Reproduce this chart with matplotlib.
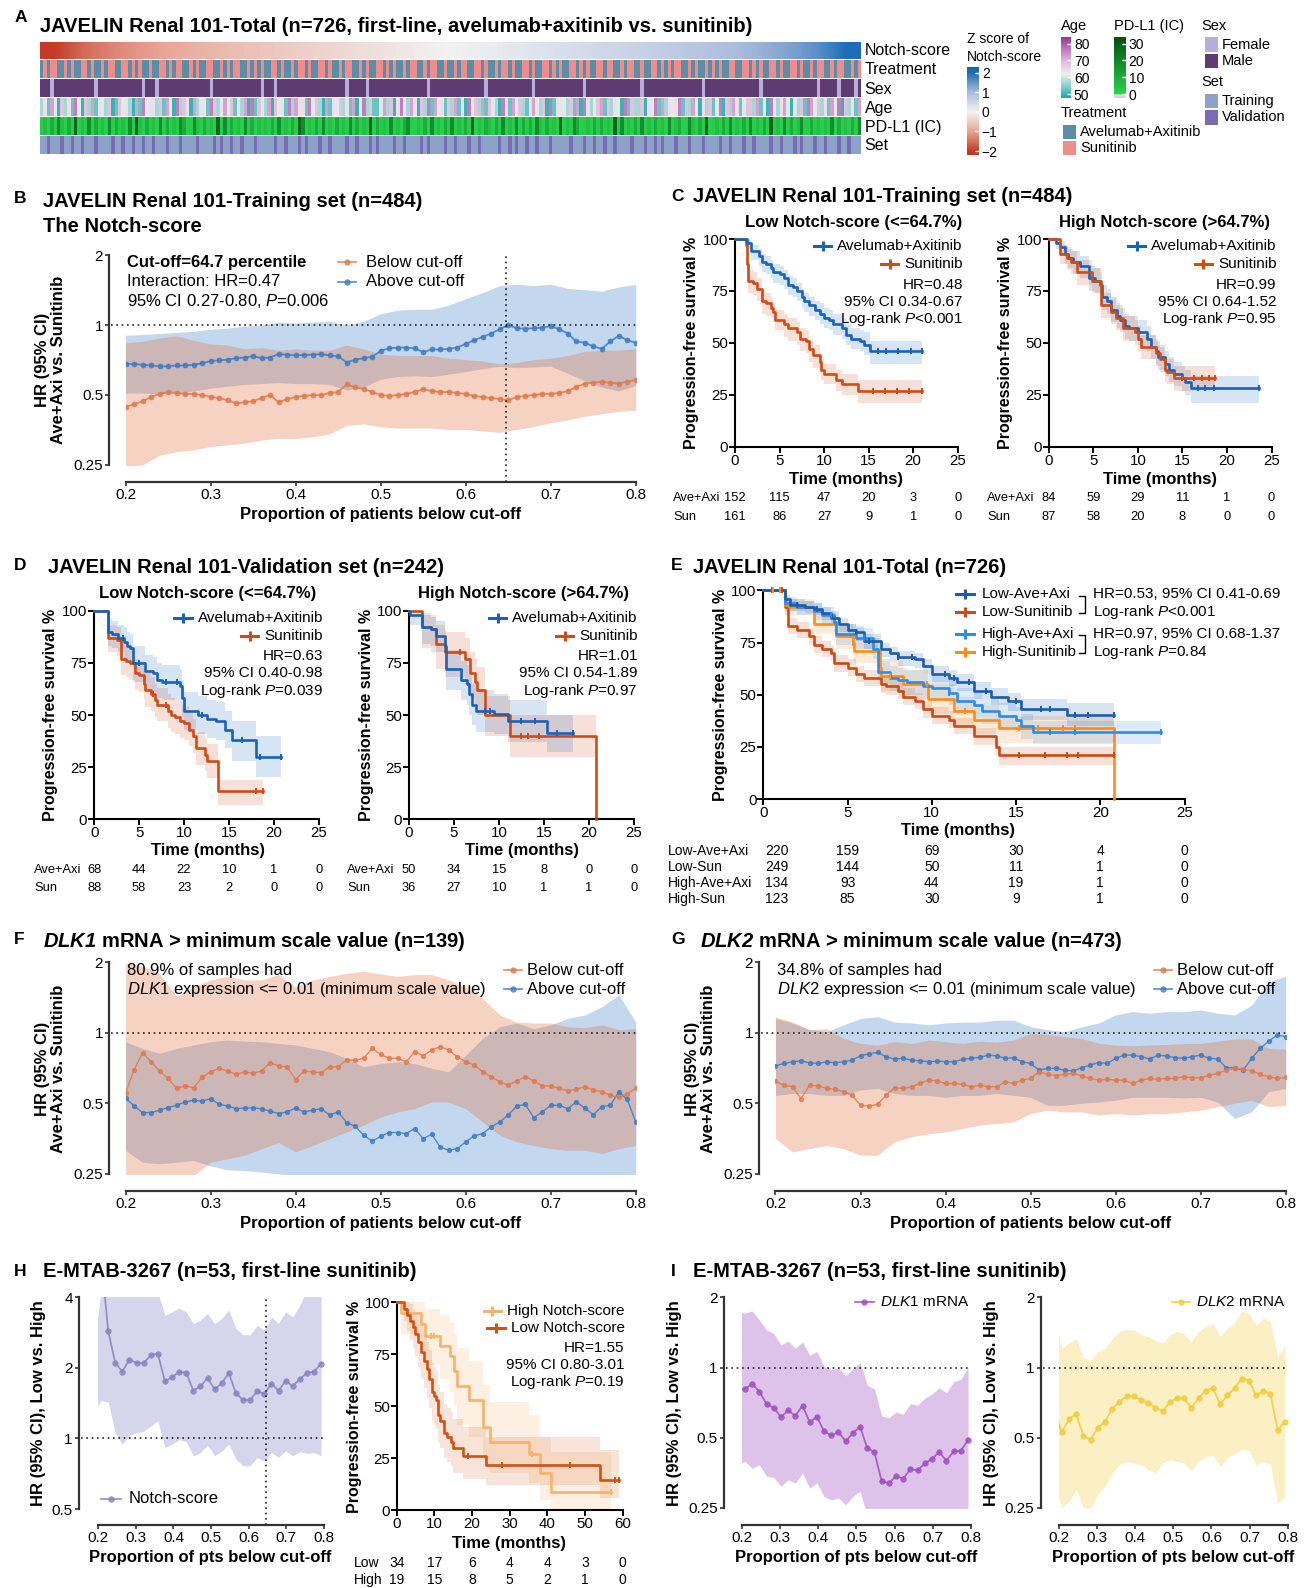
import numpy as np
import matplotlib
matplotlib.use("Agg")
import matplotlib.pyplot as plt
from matplotlib.colors import LinearSegmentedColormap, Normalize, to_rgb
from matplotlib.lines import Line2D
from matplotlib.patches import Rectangle
from matplotlib.cm import ScalarMappable
from matplotlib.ticker import NullLocator
from matplotlib.transforms import blended_transform_factory
from bisect import bisect_right

plt.rcParams['font.family'] = ['Liberation Sans', 'DejaVu Sans']
plt.rcParams['mathtext.fontset'] = 'custom'
plt.rcParams['mathtext.rm'] = 'Liberation Sans'
plt.rcParams['mathtext.it'] = 'Liberation Sans:italic'
plt.rcParams['mathtext.bf'] = 'Liberation Sans:bold'
plt.rcParams['mathtext.bfit'] = 'Liberation Sans:italic:bold'

# ---------------- data: panel A heatmap ----------------
NOTCH_Z = [-2.0, -1.55, -1.3, -1.1, -0.95, -0.82, -0.7, -0.6, -0.5, -0.4, -0.31, -0.22, -0.13, -0.04,
           0.04, 0.13, 0.22, 0.31, 0.4, 0.5, 0.6, 0.7, 0.82, 0.95, 1.1, 1.3, 1.55, 2.0]
TREATMENT = "".join(["ASASSAASASA", "ASSASAASASS", "AASSASASAAS", "AASSASASSAA", "SASAASSAASA", "SASSAASASAS",
                     "AASSASAASAS", "SASAASSASAA", "SASSAASASAA", "SSASASAASAS", "SAASASSAASA", "ASASSAASSAS",
                     "AASASSASAAS", "SASAASSASAS", "AASSASASAAS", "SASSAASASSA", "ASAASSASASA", "SSAASASAASA",
                     "SASAASSAASS", "ASASAASSASA", "ASSASAASASS", "AASASSAASAS"])
SEX = "".join(["MMMFMMMMMMM", "MMMMMFMMMMM", "MMMMMMMMFMM", "MFMMMMMMMMM", "MMMMMMFMMMM", "MMMMMMMMMMF",
               "MMMFMMMMMMM", "MMMMMMMMMMM", "MMFMMMMMFMM", "MMMMMMMMMMM", "MMMMFMMMMMM", "MMMMMMMMMMF",
               "MMMMMMMMMMM", "MMFMMMMMMMM", "MMMMMMFMMMM", "MMMMMMMMMMM", "MFMMMMMMMMM", "MMMMMMMMFMM",
               "MMMMMMMMMMM", "MMMFMMMMMMM", "MMMMMMMMMFM", "MMMMFMMMMFM"])
AGE_CODE = "".join(["35274163528", "41637254361", "26453172845", "53627418365", "17354286347", "46253718264",
                    "37164528375", "52846317254", "63527148362", "24736158437", "51638274526", "37251846372",
                    "64318527463", "25743618254", "43627185346", "72635418263", "36154827354", "58263741536",
                    "24816375246", "63725184357", "41536287463", "52748163527"])
AGE_LEVELS = [46, 50, 53, 57, 61, 64, 68, 72, 76, 81]
PDL1_CODE = "".join(["12031420315", "02140312041", "31204152031", "20413021430", "14203120514", "03120413021",
                     "21304120315", "40213041203", "12041302150", "31204120341", "02130412031", "41203150213",
                     "20314021403", "13042031205", "02143012031", "31205140213", "04120312041", "23014203150",
                     "12031402130", "40213051204", "13024103120", "21403120314"])
PDL1_LEVELS = [1, 2, 5, 10, 18, 28]
SET = "".join(["TTVTTTVTTVT", "TVTTTVTTTTV", "TTVTTVTTVTT", "VTTTVTTTVTT", "TTVTTTTVTVT", "TVTTVTTTVTT",
               "TTTVTTVTTTV", "TVTTTVTTVTT", "TTVTTVTTTVT", "VTTTTVTTVTT", "TTVTVTTTTVT", "TVTTTVTTVTT",
               "TTTVTTVTVTT", "VTTVTTTVTTT", "TTVTTTVTTVT", "TVTTVTTTTVT", "TTVTTVTVTTT", "VTTTVTTTVTT",
               "TTVTTVTTTVT", "TVTTTTVTTVT", "TTVTVTTTVTT", "VTTTVTTVTTT"])

# ---------------- data: HR-vs-cutoff curves ----------------
PROP_FINE = np.round(np.arange(0.20, 0.805, 0.01), 2)
PROP_CI = np.round(np.arange(0.20, 0.805, 0.02), 2)

B_ABOVE_HR = [0.68, 0.68, 0.675, 0.67, 0.665, 0.665, 0.67, 0.67, 0.675, 0.685,
              0.70, 0.705, 0.71, 0.72, 0.725, 0.735, 0.72, 0.725, 0.75, 0.745,
              0.74, 0.745, 0.745, 0.75, 0.74, 0.735, 0.69, 0.71, 0.72, 0.73,
              0.775, 0.795, 0.80, 0.80, 0.795, 0.765, 0.785, 0.785, 0.79, 0.80,
              0.83, 0.86, 0.89, 0.92, 0.96, 1.0, 0.97, 0.965, 0.97, 0.975,
              0.99, 0.96, 0.92, 0.85, 0.84, 0.81, 0.79, 0.85, 0.90, 0.86, 0.84]
B_BELOW_HR = [0.445, 0.455, 0.47, 0.49, 0.505, 0.515, 0.51, 0.505, 0.505, 0.50,
              0.49, 0.485, 0.475, 0.46, 0.465, 0.47, 0.485, 0.50, 0.465, 0.48,
              0.49, 0.495, 0.50, 0.50, 0.51, 0.515, 0.555, 0.54, 0.53, 0.515,
              0.50, 0.495, 0.50, 0.505, 0.515, 0.53, 0.52, 0.515, 0.515, 0.51,
              0.505, 0.495, 0.49, 0.485, 0.48, 0.475, 0.49, 0.495, 0.50, 0.505,
              0.505, 0.51, 0.52, 0.54, 0.56, 0.565, 0.57, 0.565, 0.56, 0.57, 0.58]
B_ABOVE_HI = [0.905, 0.91, 0.92, 0.93, 0.94, 0.96, 0.97, 0.99, 1.0, 1.03, 1.02, 1.03, 1.04, 1.0, 1.04, 1.12,
              1.16, 1.17, 1.17, 1.22, 1.30, 1.38, 1.48, 1.50, 1.48, 1.50, 1.44, 1.42, 1.40, 1.46, 1.50]
B_ABOVE_LO = [0.51, 0.51, 0.505, 0.51, 0.52, 0.535, 0.545, 0.555, 0.56, 0.565, 0.56, 0.56, 0.555, 0.525, 0.54,
              0.585, 0.60, 0.605, 0.60, 0.615, 0.63, 0.65, 0.665, 0.655, 0.66, 0.665, 0.62, 0.575, 0.54, 0.52, 0.55]
B_BELOW_HI = [0.84, 0.85, 0.88, 0.90, 0.86, 0.83, 0.82, 0.79, 0.80, 0.78, 0.79, 0.78, 0.78, 0.82, 0.79, 0.75,
              0.74, 0.74, 0.74, 0.72, 0.71, 0.70, 0.68, 0.69, 0.71, 0.72, 0.74, 0.77, 0.78, 0.78, 0.79]
B_BELOW_LO = [0.245, 0.25, 0.275, 0.285, 0.29, 0.30, 0.305, 0.31, 0.32, 0.325, 0.325, 0.33, 0.34, 0.37, 0.375,
              0.365, 0.36, 0.36, 0.36, 0.355, 0.355, 0.35, 0.345, 0.355, 0.365, 0.38, 0.39, 0.405, 0.415, 0.425, 0.43]

F_BELOW_HR = [0.553, 0.692, 0.821, 0.751, 0.686, 0.638, 0.578, 0.593, 0.582, 0.644,
              0.681, 0.704, 0.686, 0.664, 0.681, 0.670, 0.686, 0.746, 0.720, 0.715,
              0.631, 0.686, 0.681, 0.674, 0.715, 0.715, 0.764, 0.764, 0.777, 0.857,
              0.808, 0.777, 0.777, 0.751, 0.829, 0.797, 0.843, 0.871, 0.843, 0.790,
              0.751, 0.727, 0.681, 0.648, 0.617, 0.597, 0.623, 0.648, 0.623, 0.593,
              0.593, 0.578, 0.565, 0.574, 0.588, 0.569, 0.560, 0.541, 0.529, 0.550, 0.578]
F_ABOVE_HR = [0.527, 0.487, 0.456, 0.456, 0.467, 0.479, 0.490, 0.506, 0.515, 0.510,
              0.523, 0.495, 0.487, 0.474, 0.477, 0.477, 0.474, 0.462, 0.452, 0.459,
              0.477, 0.459, 0.467, 0.474, 0.445, 0.459, 0.413, 0.399, 0.365, 0.345,
              0.361, 0.375, 0.375, 0.371, 0.390, 0.353, 0.369, 0.325, 0.315, 0.320,
              0.342, 0.363, 0.371, 0.396, 0.416, 0.445, 0.486, 0.494, 0.434, 0.459,
              0.490, 0.490, 0.474, 0.506, 0.477, 0.447, 0.483, 0.490, 0.559, 0.519, 0.416]
F_BELOW_HI = [1.98, 1.92, 1.79, 1.43, 1.57, 1.68, 1.74, 1.68, 1.68, 1.77, 1.57, 1.68, 1.74, 1.79, 1.83, 1.78,
              1.74, 1.77, 1.77, 1.68, 1.57, 1.40, 1.19, 1.11, 1.10, 1.10, 1.06, 1.05, 1.08, 1.03, 1.04]
F_BELOW_LO = [0.24, 0.24, 0.24, 0.24, 0.245, 0.28, 0.29, 0.30, 0.32, 0.34, 0.31, 0.33, 0.353, 0.377, 0.403,
              0.437, 0.459, 0.474, 0.506, 0.506, 0.474, 0.416, 0.365, 0.342, 0.33, 0.32, 0.315, 0.315, 0.305,
              0.32, 0.33]
F_ABOVE_HI = [0.915, 0.857, 0.816, 0.857, 0.886, 0.915, 0.93, 0.92, 0.915, 0.90, 0.886, 0.857, 0.829, 0.777,
              0.715, 0.739, 0.751, 0.739, 0.704, 0.681, 0.802, 0.946, 1.06, 1.10, 1.04, 1.08, 1.15, 1.19, 1.29,
              1.45, 1.11]
F_ABOVE_LO = [0.315, 0.28, 0.276, 0.28, 0.285, 0.27, 0.26, 0.258, 0.254, 0.25, 0.24, 0.24, 0.24, 0.24, 0.24,
              0.24, 0.24, 0.24, 0.24, 0.24, 0.24, 0.24, 0.24, 0.24, 0.24, 0.24, 0.24, 0.24, 0.24, 0.24, 0.24]

G_ABOVE_HR = [0.722, 0.739, 0.751, 0.758, 0.744, 0.739, 0.751, 0.744, 0.751, 0.764,
              0.797, 0.813, 0.824, 0.790, 0.772, 0.777, 0.764, 0.758, 0.751, 0.756,
              0.751, 0.751, 0.769, 0.777, 0.784, 0.802, 0.797, 0.777, 0.782, 0.751,
              0.739, 0.692, 0.704, 0.704, 0.692, 0.686, 0.709, 0.727, 0.746, 0.739,
              0.777, 0.802, 0.802, 0.790, 0.772, 0.802, 0.795, 0.782, 0.777, 0.790,
              0.802, 0.777, 0.772, 0.709, 0.709, 0.692, 0.777, 0.857, 0.921, 0.977, 0.961]
G_BELOW_HR = [0.621, 0.597, 0.588, 0.523, 0.597, 0.593, 0.578, 0.574, 0.560, 0.541,
              0.490, 0.487, 0.494, 0.541, 0.583, 0.578, 0.588, 0.607, 0.627, 0.623,
              0.607, 0.607, 0.601, 0.588, 0.597, 0.588, 0.588, 0.617, 0.607, 0.627,
              0.638, 0.681, 0.664, 0.655, 0.664, 0.670, 0.655, 0.638, 0.627, 0.633,
              0.627, 0.627, 0.607, 0.627, 0.638, 0.633, 0.638, 0.638, 0.648, 0.642,
              0.642, 0.659, 0.670, 0.692, 0.704, 0.697, 0.688, 0.664, 0.648, 0.638, 0.644]
G_ABOVE_HI = [1.15, 1.10, 1.03, 1.01, 1.08, 1.15, 1.17, 1.11, 1.10, 1.08, 1.10, 1.11, 1.11, 1.13, 1.13, 1.06,
              1.03, 1.01, 1.06, 1.10, 1.19, 1.23, 1.21, 1.23, 1.23, 1.25, 1.21, 1.19, 1.31, 1.65, 1.74]
G_ABOVE_LO = [0.54, 0.55, 0.55, 0.54, 0.54, 0.57, 0.578, 0.55, 0.54, 0.54, 0.53, 0.54, 0.54, 0.55, 0.54, 0.53,
              0.49, 0.49, 0.50, 0.506, 0.515, 0.53, 0.53, 0.53, 0.527, 0.53, 0.506, 0.43, 0.46, 0.56, 0.578]
G_BELOW_HI = [1.17, 1.11, 1.03, 1.04, 0.946, 0.90, 0.886, 0.915, 0.90, 0.93, 0.915, 0.90, 0.92, 0.91, 0.93,
              0.993, 0.984, 0.96, 0.946, 0.90, 0.886, 0.88, 0.886, 0.89, 0.90, 0.90, 0.92, 0.94, 0.94, 0.857, 0.85]
G_BELOW_LO = [0.353, 0.31, 0.32, 0.33, 0.32, 0.30, 0.30, 0.342, 0.36, 0.37, 0.377, 0.39, 0.403, 0.41, 0.416,
              0.452, 0.467, 0.459, 0.459, 0.445, 0.452, 0.445, 0.452, 0.452, 0.459, 0.467, 0.483, 0.50, 0.515,
              0.483, 0.49]

# E-MTAB-3267: cut-offs at 10..42 of 53 patients
N_BELOW = np.arange(10, 43)
PROP_53 = N_BELOW / 53
H_HR = [6.5, 6.0, 2.88, 2.10, 1.93, 2.17, 2.10, 2.10, 2.26, 2.30, 1.75, 1.83, 1.92, 1.91, 1.60, 1.67, 1.81,
        1.62, 1.72, 1.90, 1.56, 1.46, 1.46, 1.59, 1.55, 1.71, 1.60, 1.76, 1.67, 1.79, 1.90, 1.93, 2.08]
H_HI = [2.5, 4.2, 8.0, 5.0, 4.6, 5.0, 5.0, 5.0, 5.5, 4.2, 3.36, 3.47, 3.6, 3.47, 3.09, 3.2, 3.41, 3.09, 3.25,
        3.53, 2.94, 2.77, 2.77, 3.04, 2.9, 3.3, 3.1, 3.47, 3.3, 3.7, 4.3, 4.6, 5.0]
H_LO = [1.3, 1.45, 1.43, 1.06, 0.946, 1.03, 1.06, 1.07, 1.13, 1.19, 0.915, 0.946, 0.987, 0.97, 0.843, 0.87,
        0.937, 0.843, 0.885, 0.946, 0.815, 0.764, 0.764, 0.83, 0.80, 0.87, 0.83, 0.885, 0.843, 0.877, 0.865,
        0.87, 0.843]
DLK1_HR = [0.80, 0.81, 0.851, 0.789, 0.697, 0.674, 0.613, 0.655, 0.621, 0.686, 0.583, 0.615, 0.532, 0.512,
           0.529, 0.483, 0.524, 0.557, 0.452, 0.433, 0.325, 0.320, 0.342, 0.334, 0.367, 0.363, 0.388, 0.407,
           0.434, 0.399, 0.437, 0.440, 0.489]
DLK1_HI = [1.75, 1.71, 1.75, 1.6, 1.45, 1.40, 1.25, 1.30, 1.21, 1.29, 1.13, 1.17, 1.01, 0.98, 1.0, 0.92, 0.99,
           1.05, 0.84, 0.81, 0.62, 0.61, 0.645, 0.63, 0.70, 0.69, 0.74, 0.77, 0.82, 0.78, 0.87, 0.89, 1.0]
DLK1_LO = [0.383, 0.396, 0.37, 0.383, 0.342, 0.338, 0.31, 0.33, 0.32, 0.353, 0.304, 0.32, 0.28, 0.271, 0.276,
           0.258, 0.28, 0.295, 0.23, 0.21, 0.16, 0.16, 0.17, 0.17, 0.18, 0.18, 0.19, 0.2, 0.21, 0.2, 0.21,
           0.21, 0.23]
DLK2_HR = [0.65, 0.529, 0.601, 0.633, 0.510, 0.490, 0.550, 0.587, 0.665, 0.711, 0.756, 0.754, 0.725, 0.704,
           0.674, 0.652, 0.711, 0.739, 0.737, 0.670, 0.739, 0.797, 0.816, 0.697, 0.759, 0.816, 0.894, 0.880,
           0.759, 0.795, 0.769, 0.539, 0.587]
DLK2_HI = [1.6, 1.21, 1.28, 1.33, 1.11, 1.07, 1.17, 1.21, 1.33, 1.43, 1.46, 1.45, 1.38, 1.36, 1.31, 1.27, 1.38,
           1.43, 1.40, 1.29, 1.43, 1.50, 1.55, 1.36, 1.48, 1.56, 1.75, 1.71, 1.52, 1.63, 1.57, 1.11, 1.25]
DLK2_LO = [0.30, 0.25, 0.267, 0.30, 0.25, 0.25, 0.285, 0.31, 0.353, 0.383, 0.396, 0.39, 0.383, 0.365, 0.353,
           0.39, 0.403, 0.396, 0.39, 0.36, 0.396, 0.415, 0.42, 0.377, 0.41, 0.425, 0.447, 0.44, 0.383, 0.396,
           0.383, 0.263, 0.276]

# ---------------- data: Kaplan-Meier curves (time, survival %, CI low, CI high) ----------------
C_LOW_AVE_T = [0, 1.3, 1.8, 2.7, 3.0, 3.5, 4.0, 4.3, 5.0, 5.5, 6.0, 6.5, 7.0, 7.5, 7.8, 8.3, 9.0, 9.5, 10.0,
               10.5, 11.0, 12.0, 12.5, 13.0, 14.0, 14.5, 15.2]
C_LOW_AVE_S = [100, 98, 94, 92, 89, 88, 86, 84, 83, 81, 78, 77, 75, 72, 70, 68, 66, 64, 62, 61, 59, 57, 54,
               52, 51, 49, 46]
C_LOW_AVE_HI = [100, 100, 97, 95, 93, 92, 90, 88, 87, 85, 82, 81, 79, 76, 74, 72, 70, 69, 67, 66, 64, 62, 59,
                57, 56, 55, 51]
C_LOW_AVE_LO = [100, 95, 90, 87, 84, 83, 81, 79, 78, 76, 73, 72, 70, 67, 65, 63, 61, 59, 57, 56, 54, 52, 49,
                47, 46, 44, 40]
C_LOW_AVE_CENS = [16.0, 17.0, 18.3, 19.8, 21.0]
C_LOW_SUN_T = [0, 1.2, 1.35, 1.5, 2.0, 2.5, 3.0, 3.5, 4.0, 4.3, 4.5, 5.5, 6.0, 7.0, 7.3, 8.0, 8.3, 8.7, 9.5,
               9.7, 10.0, 11.3, 12.0, 13.8]
C_LOW_SUN_S = [100, 97, 88, 80, 79, 76, 70, 69, 67, 65, 61, 59, 57, 55, 52, 51, 47, 44, 41, 37, 35, 32, 30, 27]
C_LOW_SUN_HI = [100, 99, 92, 85, 84, 81, 75, 74, 72, 70, 66, 64, 62, 60, 57, 56, 52, 49, 46, 42, 40, 37, 35, 32]
C_LOW_SUN_LO = [100, 94, 83, 74, 73, 70, 64, 63, 62, 60, 56, 53, 51, 49, 46, 45, 41, 38, 35, 32, 30, 27, 25, 21]
C_LOW_SUN_CENS = [15.5, 16.8, 18.2, 19.5, 21.0]
C_HIGH_AVE_T = [0, 0.8, 1.2, 1.8, 2.2, 2.7, 3.5, 4.5, 5.2, 5.7, 6.0, 6.5, 7.0, 7.7, 8.0, 8.5, 9.0, 10.0, 11.0,
                11.5, 12.0, 12.3, 13.0, 13.5, 14.0, 15.0, 15.3, 16.0]
C_HIGH_AVE_S = [100, 98, 96, 93, 91, 89, 87, 81, 80, 78, 72, 70, 66, 63, 61, 58, 57, 55, 52, 48, 46, 43, 40,
                37, 35, 33, 31, 28]
C_HIGH_AVE_HI = [100, 100, 99, 97, 95, 94, 92, 87, 86, 84, 78, 76, 72, 69, 67, 64, 63, 61, 58, 54, 52, 49, 46,
                 43, 41, 39, 37, 34]
C_HIGH_AVE_LO = [100, 95, 92, 88, 86, 83, 81, 75, 74, 72, 66, 64, 60, 57, 55, 52, 51, 49, 46, 42, 40, 37, 34,
                 31, 29, 27, 25, 21]
C_HIGH_AVE_CENS = [16.7, 17.5, 18.5, 23.6]
C_HIGH_SUN_T = [0, 1.3, 2.0, 2.5, 3.2, 4.8, 5.9, 7.0, 7.5, 8.3, 9.7, 10.0, 10.3, 12.0, 12.5, 13.0, 13.3, 14.0]
C_HIGH_SUN_S = [100, 93, 91, 89, 84, 80, 68, 65, 62, 57, 55, 52, 48, 45, 42, 37, 36, 33]
C_HIGH_SUN_HI = [100, 97, 96, 94, 90, 86, 74, 71, 68, 63, 61, 58, 54, 51, 48, 43, 42, 39]
C_HIGH_SUN_LO = [100, 88, 85, 83, 78, 74, 62, 59, 56, 51, 49, 46, 42, 39, 36, 31, 30, 27]
C_HIGH_SUN_CENS = [15.0, 16.3, 17.2, 18.0, 18.6]

D_LOW_AVE_T = [0, 1.5, 2.0, 2.7, 3.3, 3.7, 4.0, 4.3, 5.7, 6.5, 7.0, 7.5, 9.5, 9.8, 10.0, 11.5, 12.5, 13.5,
               14.5, 15.3, 18.0]
D_LOW_AVE_S = [100, 90, 89, 87, 85, 83, 82, 75, 71, 70, 67, 66, 64, 58, 52, 50, 48, 47, 43, 38, 30]
D_LOW_AVE_HI = [100, 96, 95, 93, 92, 90, 89, 83, 79, 78, 75, 74, 72, 67, 61, 59, 57, 56, 52, 47, 40]
D_LOW_AVE_LO = [100, 83, 82, 80, 77, 75, 74, 66, 62, 61, 58, 57, 55, 49, 43, 41, 39, 38, 34, 28, 20.5]
D_LOW_AVE_CENS = [3.2, 5.0, 8.0, 9.2, 12.0, 16.5, 18.5, 20.8]
D_LOW_SUN_T = [0, 1.5, 2.5, 3.0, 3.5, 4.0, 4.5, 5.0, 5.5, 5.7, 6.3, 6.8, 7.0, 8.2, 8.5, 9.0, 9.6, 10.0, 10.6,
               11.0, 11.3, 12.3, 12.5, 13.8]
D_LOW_SUN_S = [100, 87, 86, 77, 76, 75, 70, 69, 65, 62, 60, 57, 55, 52, 50, 49, 47, 46, 43, 40, 34, 31, 28, 13.5]
D_LOW_SUN_HI = [100, 93, 92, 84, 83, 82, 77, 76, 72, 70, 68, 65, 63, 60, 58, 57, 55, 54, 51, 48, 42, 39, 36, 19]
D_LOW_SUN_LO = [100, 80, 79, 69, 68, 67, 62, 61, 57, 54, 52, 49, 47, 44, 42, 41, 39, 38, 35, 32, 26, 23, 20, 7]
D_LOW_SUN_CENS = [6.5, 8.0, 18.0, 18.8]
D_HIGH_AVE_T = [0, 0.1, 1.5, 2.5, 3.0, 4.0, 4.1, 5.8, 6.5, 6.7, 7.0, 7.5, 9.5, 11.0, 15.3]
D_HIGH_AVE_S = [100, 98, 92, 91, 88, 83, 72, 67, 65, 60, 55, 52, 50.5, 47, 41.5]
D_HIGH_AVE_HI = [100, 100, 98, 97, 95, 91, 81, 76, 74, 70, 65, 62, 60, 57, 50]
D_HIGH_AVE_LO = [100, 93, 84, 83, 80, 74, 62, 57, 55, 50, 45, 42, 41, 37, 32.5]
D_HIGH_AVE_CENS = [8.5, 9.0, 12.5, 14.0, 16.5, 18.2]
D_HIGH_SUN_T = [0, 1.4, 2.5, 3.0, 4.0, 6.2, 6.8, 7.3, 7.6, 8.5, 11.2, 20.8]
D_HIGH_SUN_S = [100, 92, 91, 84, 80, 77, 70, 66, 62, 50, 40, 0]
D_HIGH_SUN_HI = [100, 99, 98, 93, 90, 87, 80, 77, 73, 59, 50, 50]
D_HIGH_SUN_LO = [100, 82, 80, 72, 68, 65, 58, 54, 50, 40, 30, 30]
D_HIGH_SUN_CENS = [5.7, 12.5, 13.2, 14.5]

E_LA_T = [0, 1.3, 1.6, 2.5, 3.0, 3.5, 4.0, 4.5, 5.0, 5.5, 6.0, 7.0, 7.5, 8.0, 9.0, 9.5, 10.0, 11.0, 11.5, 12.5,
          13.5, 14.5, 15.3, 18.0]
E_LA_S = [100, 96, 93, 92, 91, 89, 87, 84, 81, 80, 76, 72, 70, 68, 67, 64, 60, 58, 56, 52, 49, 47, 43, 40.5]
E_LA_HI = [100, 98, 96, 95, 94, 92, 90, 87, 84, 83, 79, 75, 73, 71, 70, 67, 64, 62, 60, 56, 53, 51, 48, 46]
E_LA_LO = [100, 93, 90, 89, 88, 86, 84, 80, 77, 76, 72, 68, 66, 64, 63, 60, 56, 54, 52, 48, 45, 42, 38, 35]
E_LA_CENS = [2.0, 3.2, 5.5, 6.3, 8.0, 8.8, 10.8, 11.3, 12.2, 13.2, 15.0, 16.5, 17.0, 18.5, 19.3, 20.8]
E_LS_T = [0, 1.3, 1.45, 2.0, 2.7, 3.0, 3.5, 4.0, 4.2, 5.0, 5.5, 6.0, 7.0, 7.3, 8.0, 8.3, 9.0, 9.5, 10.0, 11.0,
          11.3, 12.5, 13.8, 14.0]
E_LS_S = [100, 92, 83, 81, 78, 74, 72, 70, 65, 63, 60, 58, 55, 54, 52, 49, 47, 43, 40, 38, 35, 30, 25, 21]
E_LS_HI = [100, 95, 87, 85, 82, 78, 76, 74, 69, 67, 64, 62, 59, 58, 56, 53, 51, 47, 44, 42, 39, 34, 29, 25]
E_LS_LO = [100, 88, 79, 77, 74, 70, 68, 66, 61, 59, 56, 54, 51, 50, 48, 45, 43, 39, 36, 34, 31, 26, 21, 16.5]
E_LS_CENS = [0.5, 1.1, 15.2, 16.7, 18.0, 18.7, 20.8]
E_HA_T = [0, 1.3, 2.0, 3.0, 3.5, 4.2, 4.3, 5.5, 6.5, 6.8, 7.5, 8.0, 8.5, 9.5, 10.0, 11.0, 11.5, 12.5, 13.0, 14.0,
          15.0, 15.3, 16.0]
E_HA_S = [100, 94, 92, 90, 88, 85, 79, 77, 72, 61, 58, 57, 56, 54, 53, 51, 47, 45, 42, 40, 38, 35, 32]
E_HA_HI = [100, 97, 95, 94, 92, 89, 84, 82, 77, 67, 64, 63, 62, 60, 59, 57, 53, 51, 48, 46, 44, 41, 37.5]
E_HA_LO = [100, 90, 88, 86, 84, 80, 74, 72, 67, 55, 52, 51, 50, 48, 47, 45, 41, 39, 36, 34, 32, 29, 26.5]
E_HA_CENS = [4.0, 6.0, 11.0, 17.0, 18.5, 23.6]
E_HS_T = [0, 1.3, 1.5, 3.0, 4.3, 5.3, 5.4, 6.9, 7.0, 8.3, 9.8, 11.3, 12.5, 14.0, 20.8]
E_HS_S = [100, 93, 92, 84, 78, 75, 71, 63, 59, 55, 48, 42, 38, 34, 0]
E_HS_HI = [100, 97, 96, 89, 84, 81, 77, 70, 66, 62, 55, 49, 45, 40, 40]
E_HS_LO = [100, 89, 88, 79, 72, 69, 65, 56, 52, 48, 41, 35, 31, 27, 27]
E_HS_CENS = [0.6, 1.0, 5.3, 7.5, 9.7, 12.0, 15.2, 16.3, 17.8, 18.5]

H_LOW_T = [0, 2.0, 2.8, 3.5, 4.3, 4.9, 5.6, 6.5, 7.2, 8.0, 8.5, 9.3, 10.0, 10.4, 11.0, 11.5, 12.4, 13.2, 14.3,
           14.9, 17.6, 23.7, 53.9]
H_LOW_S = [100, 97, 94, 91, 88, 85, 81, 76, 72, 68, 63, 57, 55, 53, 46, 43, 37, 35, 33, 30, 26, 21.7, 14.4]
H_LOW_HI = [100, 100, 100, 99, 97, 95, 92, 88, 85, 81, 77, 71, 69, 67, 60, 57, 51, 49, 47, 44, 40, 35, 29]
H_LOW_LO = [100, 91, 86, 82, 78, 74, 69, 63, 59, 54, 49, 43, 41, 39, 33, 30, 25, 23, 21, 18, 15, 12, 6]
H_LOW_CENS = [19.0, 28.0, 46.0, 58.0, 59.0]
H_HIGH_T = [0, 1.0, 6.5, 7.5, 11.5, 14.0, 15.3, 16.0, 19.1, 23.0, 24.8, 35.0, 38.1, 40.9]
H_HIGH_S = [100, 95, 89.5, 84, 79, 74, 67, 59.6, 53, 40, 33, 27, 17.6, 8.9]
H_HIGH_HI = [100, 100, 100, 97, 94, 90, 85, 78, 72, 60, 52, 46, 35, 28]
H_HIGH_LO = [100, 85, 78, 70, 63, 57, 50, 41, 35, 24, 18, 13, 5, 0]
H_HIGH_CENS = [9.0, 10.0, 36.0, 57.0]

# ---------------- figure ----------------
fig = plt.figure(figsize=(13.07, 15.88), dpi=100)
renderer = fig.canvas.get_renderer()
W, H = 1291.0, 1568.0
FIG_WPX = 1307.0

BLUE = "#1763BA"
ORANGE = "#D34A12"
HR_BLUE = "#3E7CC4"
HR_ORANGE = "#E27A4C"
KM_TICK_FS = 10.8
HR_TICK_FS = 11
PFS_FS = 11.5
RISK_FS = 9.3


def fx(x):
    return x / W


def fy(y):
    return 1 - y / H


def box(x0, y0, x1, y1):
    return [fx(x0), fy(y1), (x1 - x0) / W, (y1 - y0) / H]


def put(x, y, s, **kw):
    kw.setdefault("va", "center")
    return fig.text(fx(x), fy(y), s, **kw)


def handle(xa, xb, y, color, marker="|", ms=7, lw=2.2, alpha=1.0):
    fig.add_artist(Line2D([fx(xa), fx(xb)], [fy(y), fy(y)], transform=fig.transFigure,
                          color=color, lw=lw, alpha=alpha))
    fig.add_artist(Line2D([fx((xa + xb) / 2)], [fy(y)], transform=fig.transFigure, color=color,
                          marker=marker, ms=ms, mew=lw if marker == "|" else 0.5, ls="none", alpha=alpha))


def rlegend(x_right, y, label, color, fs=11, marker="|", ms=7, lw=2.2, alpha=1.0, hl=17):
    t = put(x_right, y, label, ha="right", fontsize=fs)
    x_left = t.get_window_extent(renderer).x0 / FIG_WPX * W
    handle(x_left - 6 - hl, x_left - 6, y, color, marker=marker, ms=ms, lw=lw, alpha=alpha)


def rtext(x_right, ys, lines, fs=11):
    for y, s in zip(ys, lines):
        put(x_right, y, s, ha="right", fontsize=fs)


def panel_letter(x, y, s):
    put(x, y, s, fontsize=12.5, fontweight="bold")


def title(x, y, s, fs=14.5):
    put(x, y, s, fontsize=fs, fontweight="bold")


def hr_axes(x0, y0, x1, y1, ylo, yhi, yticks, ylabels, loff=16, boff=17):
    ax = fig.add_axes(box(x0, y0, x1, y1))
    ax.patch.set_alpha(0)
    ax.set_yscale("log", base=2)
    ax.set_xlim(0.2, 0.8)
    ax.set_ylim(ylo, yhi)
    xt = [0.2, 0.3, 0.4, 0.5, 0.6, 0.7, 0.8]
    ax.set_xticks(xt)
    ax.set_xticklabels([f"{v:.1f}" for v in xt])
    ax.set_yticks(yticks)
    ax.set_yticklabels(ylabels)
    ax.yaxis.set_minor_locator(NullLocator())
    for s in ["top", "right"]:
        ax.spines[s].set_visible(False)
    ax.spines["left"].set_position(("outward", loff * 0.73))
    ax.spines["bottom"].set_position(("outward", boff * 0.73))
    for s in ["left", "bottom"]:
        ax.spines[s].set_linewidth(1.6)
        ax.spines[s].set_color("#333333")
    ax.tick_params(length=3, width=1.2, labelsize=HR_TICK_FS, pad=1.5, color="#333333")
    return ax


def hr_series(ax, x, hr, xci, lo, hi, line_c, fill_c, fill_a, z, ms=3.6, lw=1.3):
    ax.fill_between(xci, lo, hi, color=fill_c, alpha=fill_a, lw=0, zorder=z)
    ax.plot(x, hr, color=line_c, lw=lw, marker="o", ms=ms, mfc=line_c, mec=line_c, mew=0.5,
            alpha=0.85, zorder=5)


def ref_line_h(ax, loff_frac):
    ax.axhline(1, xmin=-loff_frac, xmax=1, ls=(0, (1, 2.2)), color="#222222", lw=1.2, clip_on=False, zorder=6)


def km_axes(x0, y0, x1, y1, xmax, xstep):
    ax = fig.add_axes(box(x0, y0, x1, y1))
    ax.patch.set_alpha(0)
    ax.set_xlim(0, xmax)
    ax.set_ylim(0, 100)
    ax.set_xticks(np.arange(0, xmax + 1, xstep))
    ax.set_yticks([0, 25, 50, 75, 100])
    for s in ["top", "right"]:
        ax.spines[s].set_visible(False)
    for s in ["left", "bottom"]:
        ax.spines[s].set_linewidth(1.5)
    ax.tick_params(length=4, width=1.4, labelsize=KM_TICK_FS, pad=1)
    return ax


def km(ax, t, s, lo, hi, end, cens, color, lw=1.9, fa=0.17):
    tt = list(t) + [end]
    ax.fill_between(tt, list(lo) + [lo[-1]], list(hi) + [hi[-1]], step="post", color=color, alpha=fa, lw=0)
    ax.step(tt, list(s) + [s[-1]], where="post", color=color, lw=lw, clip_on=False, zorder=4)
    cy = [s[bisect_right(t, c) - 1] for c in cens]
    ax.plot(cens, cy, ls="none", marker="|", ms=5, mew=1.4, color=color, zorder=5, clip_on=False)


def risk(ax, x_label, rows, ticks, fs=RISK_FS, first_left=False):
    tr = blended_transform_factory(ax.transData, fig.transFigure)
    for name, y, nums in rows:
        put(x_label, y, name, fontsize=fs)
        for i, (tk, n) in enumerate(zip(ticks, nums)):
            if first_left and i == 0:
                ax.text(tk + 0.1, fy(y), str(n), transform=tr, ha="left", va="center", fontsize=fs)
            else:
                ax.text(tk, fy(y), str(n), transform=tr, ha="center", va="center", fontsize=fs)


# ================= Panel A =================
panel_letter(14, 17, "A")
title(40, 26, "JAVELIN Renal 101-Total (n=726, first-line, avelumab+axitinib vs. sunitinib)")

z_norm = Normalize(-2.2, 2.3)
z_cmap = LinearSegmentedColormap.from_list("z", [
    (0.0, "#BE3524"), (0.2 / 4.5, "#C43C27"), (1.2 / 4.5, "#E8A595"), (2.2 / 4.5, "#F2F2F2"),
    (3.2 / 4.5, "#A9BCDD"), (4.2 / 4.5, "#1F6DB7"), (1.0, "#1666B2")])
age_norm = Normalize(47.6, 83.6)
age_cmap = LinearSegmentedColormap.from_list("age", [
    (0.0, "#14A7A7"), ((55 - 47.6) / 36, "#86D2CE"), ((62 - 47.6) / 36, "#EFEFEF"),
    ((70 - 47.6) / 36, "#E3B2DB"), (1.0, "#983A9A")])
pd_norm = Normalize(-2.4, 33.6)
pd_cmap = LinearSegmentedColormap.from_list("pd", [
    (0.0, "#CFCFCF"), (0.055, "#D6E9D6"), (0.067, "#2BD34F"), (0.5, "#14982F"), (1.0, "#0A4E14")])
TREAT_C = {"A": "#5A8EA8", "S": "#F08C89"}
SEX_C = {"M": "#5E3B70", "F": "#B8ACD9"}
SET_C = {"T": "#8DA2C9", "V": "#7A6CB4"}

axA = fig.add_axes(box(40, 41, 850, 153))
axA.set_xlim(0, 1)
axA.set_ylim(6, 0)
axA.axis("off")
gap = 0.05
axA.imshow(np.array(NOTCH_Z)[None, :], cmap=z_cmap, norm=z_norm, aspect="auto",
           interpolation="bilinear", extent=[0, 1, 1 - gap, 0])


def cat_row(codes, cmap_dict, i):
    rgb = np.array([[to_rgb(cmap_dict[c]) for c in codes]])
    axA.imshow(rgb, aspect="auto", interpolation="nearest", extent=[0, 1, i + 1 - gap, i + gap])


def val_row(codes, levels, cmap, norm, i):
    vals = np.array([[levels[int(c)] for c in codes]], dtype=float)
    axA.imshow(vals, cmap=cmap, norm=norm, aspect="auto", interpolation="nearest",
               extent=[0, 1, i + 1 - gap, i + gap])


cat_row(TREATMENT, TREAT_C, 1)
cat_row(SEX, SEX_C, 2)
val_row(AGE_CODE, AGE_LEVELS, age_cmap, age_norm, 3)
val_row(PDL1_CODE, PDL1_LEVELS, pd_cmap, pd_norm, 4)
cat_row(SET, SET_C, 5)

for lab, y in zip(["Notch-score", "Treatment", "Sex", "Age", "PD-L1 (IC)", "Set"],
                  [50, 69, 88, 107, 126, 144]):
    put(854, y, lab, fontsize=11.5)


def cbar(x0, y0, x1, y1, cmap, norm, ticks):
    cax = fig.add_axes(box(x0, y0, x1, y1))
    cb = fig.colorbar(ScalarMappable(norm=norm, cmap=cmap), cax=cax, ticks=ticks)
    cb.outline.set_visible(False)
    cax.tick_params(direction="in", color="white", length=3, width=1, labelsize=10, pad=2)
    return cb


put(955, 39, "Z score of", fontsize=10)
put(955, 56, "Notch-score", fontsize=10)
cbar(955, 66, 967, 153, z_cmap, z_norm, [-2, -1, 0, 1, 2])
put(1048, 26, "Age", fontsize=10.5)
cbar(1048, 37, 1058, 97, age_cmap, age_norm, [50, 60, 70, 80])
put(1100, 26, "PD-L1 (IC)", fontsize=10.5)
cbar(1100, 37, 1112, 97, pd_cmap, pd_norm, [0, 10, 20, 30])


def swatch(x0, y0, color, label):
    fig.add_artist(Rectangle((fx(x0), fy(y0 + 14)), 13 / W, 14 / H, transform=fig.transFigure,
                             color=color, lw=0))
    put(x0 + 17, y0 + 7, label, fontsize=10.5)


put(1187, 26, "Sex", fontsize=10.5)
swatch(1190, 37, SEX_C["F"], "Female")
swatch(1190, 53, SEX_C["M"], "Male")
put(1187, 81, "Set", fontsize=10.5)
swatch(1190, 93, SET_C["T"], "Training")
swatch(1190, 109, SET_C["V"], "Validation")
put(1048, 112, "Treatment", fontsize=10.5)
swatch(1050, 123, TREAT_C["A"], "Avelumab+Axitinib")
swatch(1050, 139, TREAT_C["S"], "Sunitinib")

# ================= Panel B =================
panel_letter(14, 196, "B")
title(42, 199, "JAVELIN Renal 101-Training set (n=484)")
title(42, 224, "The Notch-score")
axB = hr_axes(124, 252, 628, 459, 0.25, 2, [0.25, 0.5, 1, 2], ["0.25", "0.5", "1", "2"])
hr_series(axB, PROP_FINE, B_ABOVE_HR, PROP_CI, B_ABOVE_LO, B_ABOVE_HI, HR_BLUE, "#C3D8EE", 1.0, 1)
hr_series(axB, PROP_FINE, B_BELOW_HR, PROP_CI, B_BELOW_LO, B_BELOW_HI, HR_ORANGE, "#E26C37", 0.3, 2)
ref_line_h(axB, 14 / 504)
axB.axvline(0.647, ymin=-17 / 207, ymax=1, ls=(0, (1, 2.2)), color="#222222", lw=1.2, clip_on=False, zorder=6)
put(50, 355, "HR (95% CI)\nAve+Axi vs. Sunitinib", fontsize=12, fontweight="bold", rotation=90,
    ha="center", multialignment="center", linespacing=1.1)
put(376, 508, "Proportion of patients below cut-off", fontsize=12, fontweight="bold", ha="center")
put(125, 259, "Cut-off=64.7 percentile", fontsize=12, fontweight="bold")
put(125, 278, "Interaction: HR=0.47", fontsize=12)
put(125, 297, "95% CI 0.27-0.80, $P$=0.006", fontsize=12)
handle(334, 352, 259, HR_ORANGE, marker="o", ms=4, lw=1.3, alpha=0.8)
put(362, 259, "Below cut-off", fontsize=12)
handle(334, 352, 278, HR_BLUE, marker="o", ms=4, lw=1.3, alpha=0.8)
put(362, 278, "Above cut-off", fontsize=12)

# ================= Panel C =================
panel_letter(663, 194, "C")
title(685, 194, "JAVELIN Renal 101-Training set (n=484)")
put(843, 220, "Low Notch-score (<=64.7%)", fontsize=12, fontweight="bold", ha="center")
put(1150, 220, "High Notch-score (>64.7%)", fontsize=12, fontweight="bold", ha="center")
axC1 = km_axes(726, 236, 946, 441, 25, 5)
km(axC1, C_LOW_SUN_T, C_LOW_SUN_S, C_LOW_SUN_LO, C_LOW_SUN_HI, 21.0, C_LOW_SUN_CENS, ORANGE)
km(axC1, C_LOW_AVE_T, C_LOW_AVE_S, C_LOW_AVE_LO, C_LOW_AVE_HI, 21.0, C_LOW_AVE_CENS, BLUE)
axC2 = km_axes(1036, 236, 1256, 441, 25, 5)
km(axC2, C_HIGH_AVE_T, C_HIGH_AVE_S, C_HIGH_AVE_LO, C_HIGH_AVE_HI, 23.6, C_HIGH_AVE_CENS, BLUE)
km(axC2, C_HIGH_SUN_T, C_HIGH_SUN_S, C_HIGH_SUN_LO, C_HIGH_SUN_HI, 18.6, C_HIGH_SUN_CENS, ORANGE)
for xr, hr_lines in [(951, ["HR=0.48", "95% CI 0.34-0.67", "Log-rank $P$<0.001"]),
                     (1261, ["HR=0.99", "95% CI 0.64-1.52", "Log-rank $P$=0.95"])]:
    rlegend(xr, 243, "Avelumab+Axitinib", BLUE)
    rlegend(xr, 261, "Sunitinib", ORANGE)
    rtext(xr, [281, 298, 315], hr_lines)
for xc in [683, 993]:
    put(xc, 339, "Progression-free survival %", fontsize=PFS_FS, fontweight="bold", rotation=90, ha="center")
for xc in [836, 1146]:
    put(xc, 473, "Time (months)", fontsize=12, fontweight="bold", ha="center")
KM_TICKS = [0, 5, 10, 15, 20, 25]
risk(axC1, 665, [("Ave+Axi", 492, [152, 115, 47, 20, 3, 0]), ("Sun", 510, [161, 86, 27, 9, 1, 0])], KM_TICKS)
risk(axC2, 975, [("Ave+Axi", 492, [84, 59, 29, 11, 1, 0]), ("Sun", 510, [87, 58, 20, 8, 0, 0])], KM_TICKS)

# ================= Panel D =================
panel_letter(14, 558, "D")
title(47, 560, "JAVELIN Renal 101-Validation set (n=242)")
put(205, 586, "Low Notch-score (<=64.7%)", fontsize=12, fontweight="bold", ha="center")
put(517, 586, "High Notch-score (>64.7%)", fontsize=12, fontweight="bold", ha="center")
axD1 = km_axes(93, 603, 315, 809, 25, 5)
km(axD1, D_LOW_SUN_T, D_LOW_SUN_S, D_LOW_SUN_LO, D_LOW_SUN_HI, 18.8, D_LOW_SUN_CENS, ORANGE)
km(axD1, D_LOW_AVE_T, D_LOW_AVE_S, D_LOW_AVE_LO, D_LOW_AVE_HI, 20.8, D_LOW_AVE_CENS, BLUE)
axD2 = km_axes(404, 603, 626, 809, 25, 5)
km(axD2, D_HIGH_SUN_T, D_HIGH_SUN_S, D_HIGH_SUN_LO, D_HIGH_SUN_HI, 20.8, D_HIGH_SUN_CENS, ORANGE)
km(axD2, D_HIGH_AVE_T, D_HIGH_AVE_S, D_HIGH_AVE_LO, D_HIGH_AVE_HI, 18.2, D_HIGH_AVE_CENS, BLUE)
for xr, hr_lines in [(319, ["HR=0.63", "95% CI 0.40-0.98", "Log-rank $P$=0.039"]),
                     (630, ["HR=1.01", "95% CI 0.54-1.89", "Log-rank $P$=0.97"])]:
    rlegend(xr, 610, "Avelumab+Axitinib", BLUE)
    rlegend(xr, 628, "Sunitinib", ORANGE)
    rtext(xr, [648, 665, 682], hr_lines)
for xc in [50, 362]:
    put(xc, 706, "Progression-free survival %", fontsize=PFS_FS, fontweight="bold", rotation=90, ha="center")
for xc in [205, 516]:
    put(xc, 840, "Time (months)", fontsize=12, fontweight="bold", ha="center")
risk(axD1, 34, [("Ave+Axi", 859, [68, 44, 22, 10, 1, 0]), ("Sun", 877, [88, 58, 23, 2, 0, 0])], KM_TICKS)
risk(axD2, 343, [("Ave+Axi", 859, [50, 34, 15, 8, 0, 0]), ("Sun", 877, [36, 27, 10, 1, 1, 0])], KM_TICKS)

# ================= Panel E =================
panel_letter(663, 558, "E")
title(685, 560, "JAVELIN Renal 101-Total (n=726)")
E_LA, E_LS, E_HA, E_HS = "#1B5CAC", "#CC4A14", "#2B8DEA", "#FF8C1A"
axE = km_axes(754, 583, 1170, 789, 25, 5)
km(axE, E_LS_T, E_LS_S, E_LS_LO, E_LS_HI, 20.8, E_LS_CENS, E_LS)
km(axE, E_HS_T, E_HS_S, E_HS_LO, E_HS_HI, 20.8, E_HS_CENS, E_HS)
km(axE, E_HA_T, E_HA_S, E_HA_LO, E_HA_HI, 23.6, E_HA_CENS, E_HA)
km(axE, E_LA_T, E_LA_S, E_LA_LO, E_LA_HI, 20.8, E_LA_CENS, E_LA)
for lab, y, c in [("Low-Ave+Axi", 587, E_LA), ("Low-Sunitinib", 604, E_LS),
                  ("High-Ave+Axi", 626, E_HA), ("High-Sunitinib", 644, E_HS)]:
    handle(944, 962, y, c)
    put(970, y, lab, fontsize=11)
for ya, yb in [(588, 605), (627, 645)]:
    fig.add_artist(Line2D([fx(1066), fx(1072), fx(1072), fx(1066)], [fy(ya), fy(ya), fy(yb), fy(yb)],
                          transform=fig.transFigure, color="black", lw=1))
put(1080, 587, "HR=0.53, 95% CI 0.41-0.69", fontsize=11)
put(1080, 604, "Log-rank $P$<0.001", fontsize=11)
put(1080, 626, "HR=0.97, 95% CI 0.68-1.37", fontsize=11)
put(1080, 644, "Log-rank $P$=0.84", fontsize=11)
put(712, 686, "Progression-free survival %", fontsize=PFS_FS, fontweight="bold", rotation=90, ha="center")
put(946, 820, "Time (months)", fontsize=12, fontweight="bold", ha="center")
risk(axE, 660, [("Low-Ave+Axi", 840, [220, 159, 69, 30, 4, 0]), ("Low-Sun", 856, [249, 144, 50, 11, 1, 0]),
                ("High-Ave+Axi", 872, [134, 93, 44, 19, 1, 0]), ("High-Sun", 888, [123, 85, 30, 9, 1, 0])],
     KM_TICKS, fs=10, first_left=True)

# ================= Panels F and G =================
for letter, lx, x0, gene, n_txt, pct, series in [
        ("F", 14, 124, "DLK1", "139", "80.9",
         (F_BELOW_HR, F_BELOW_LO, F_BELOW_HI, F_ABOVE_HR, F_ABOVE_LO, F_ABOVE_HI)),
        ("G", 663, 766, "DLK2", "473", "34.8",
         (G_BELOW_HR, G_BELOW_LO, G_BELOW_HI, G_ABOVE_HR, G_ABOVE_LO, G_ABOVE_HI))]:
    panel_letter(lx, 928, letter)
    title(lx + 28, 930, r"$\mathbfit{" + gene + "}$ mRNA > minimum scale value (n=" + n_txt + ")")
    ax = hr_axes(x0, 950, x0 + 504, 1159, 0.25, 2, [0.25, 0.5, 1, 2], ["0.25", "0.5", "1", "2"])
    bh, bl, bu, ah, al, au = series
    hr_series(ax, PROP_FINE, ah, PROP_CI, al, au, HR_BLUE, "#C3D8EE", 1.0, 1, ms=3.3, lw=1.0)
    hr_series(ax, PROP_FINE, bh, PROP_CI, bl, bu, HR_ORANGE, "#E26C37", 0.3, 2, ms=3.3, lw=1.0)
    ref_line_h(ax, 14 / 504)
    put(x0 - 74, 1055, "HR (95% CI)\nAve+Axi vs. Sunitinib", fontsize=12, fontweight="bold", rotation=90,
        ha="center", multialignment="center", linespacing=1.1)
    put(x0 + 252, 1208, "Proportion of patients below cut-off", fontsize=12, fontweight="bold", ha="center")
    put(x0 + 1, 958, pct + "% of samples had", fontsize=12)
    put(x0 + 1, 977, r"$\mathit{" + gene + "}$ expression <= 0.01 (minimum scale value)", fontsize=12)
    handle(x0 + 374, x0 + 392, 958, HR_ORANGE, marker="o", ms=4, lw=1.3, alpha=0.8)
    put(x0 + 397, 958, "Below cut-off", fontsize=12)
    handle(x0 + 374, x0 + 392, 977, HR_BLUE, marker="o", ms=4, lw=1.3, alpha=0.8)
    put(x0 + 397, 977, "Above cut-off", fontsize=12)

# ================= Panel H =================
panel_letter(14, 1255, "H")
title(42, 1255, "E-MTAB-3267 (n=53, first-line sunitinib)")
axH1 = hr_axes(97, 1281, 320, 1490, 0.5, 4, [0.5, 1, 2, 4], ["0.5", "1", "2", "4"], loff=19, boff=16)
hr_series(axH1, PROP_53, H_HR, PROP_53, H_LO, H_HI, "#8585C4", "#CBCBE6", 0.8, 1, ms=4, lw=1.3)
ref_line_h(axH1, 17 / 223)
axH1.axvline(0.647, ymin=-16 / 209, ymax=1, ls=(0, (1, 2.2)), color="#222222", lw=1.2, clip_on=False,
             zorder=6)
handle(100, 120, 1480, "#8585C4", marker="o", ms=4, lw=1.3, alpha=0.85)
put(127, 1480, "Notch-score", fontsize=12)
put(38, 1385, "HR (95% CI), Low vs. High", fontsize=12, fontweight="bold", rotation=90, ha="center")
put(208, 1538, "Proportion of pts below cut-off", fontsize=12, fontweight="bold", ha="center")

H_HIGH_C, H_LOW_C = "#F7B26B", "#D4500F"
axH2 = km_axes(392, 1286, 615, 1491, 60, 10)
km(axH2, H_HIGH_T, H_HIGH_S, H_HIGH_LO, H_HIGH_HI, 57.0, H_HIGH_CENS, H_HIGH_C, fa=0.2)
km(axH2, H_LOW_T, H_LOW_S, H_LOW_LO, H_LOW_HI, 59.0, H_LOW_CENS, H_LOW_C, fa=0.15)
rlegend(617, 1294, "High Notch-score", H_HIGH_C)
rlegend(617, 1311, "Low Notch-score", H_LOW_C)
rtext(617, [1331, 1348, 1365], ["HR=1.55", "95% CI 0.80-3.01", "Log-rank $P$=0.19"])
put(350, 1389, "Progression-free survival %", fontsize=PFS_FS, fontweight="bold", rotation=90, ha="center")
put(503, 1524, "Time (months)", fontsize=12, fontweight="bold", ha="center")
risk(axH2, 350, [("Low", 1543, [34, 17, 6, 4, 4, 3, 0]), ("High", 1560, [19, 15, 8, 5, 2, 1, 0])],
     [0, 10, 20, 30, 40, 50, 60], fs=10)

# ================= Panel I =================
panel_letter(663, 1255, "I")
title(685, 1255, "E-MTAB-3267 (n=53, first-line sunitinib)")
for x0, x1, gene, hr, lo, hi, lc, fc in [
        (733, 959, "DLK1", DLK1_HR, DLK1_LO, DLK1_HI, "#A24FC0", "#DDC3EA"),
        (1046, 1272, "DLK2", DLK2_HR, DLK2_LO, DLK2_HI, "#F2CC3C", "#FBEFC4")]:
    ax = hr_axes(x0, 1281, x1, 1489, 0.25, 2, [0.25, 0.5, 1, 2], ["0.25", "0.5", "1", "2"], loff=18, boff=17)
    hr_series(ax, PROP_53, hr, PROP_53, lo, hi, lc, fc, 1.0, 1, ms=4, lw=1.3)
    ref_line_h(ax, 16 / (x1 - x0))
    rlegend(x1 - 2, 1286, r"$\mathit{" + gene + "}$ mRNA", lc, fs=11, marker="o", ms=4, lw=1.3,
            alpha=0.85, hl=18)
    put(x0 - 67, 1385, "HR (95% CI), Low vs. High", fontsize=12, fontweight="bold", rotation=90, ha="center")
    put((x0 + x1) / 2, 1538, "Proportion of pts below cut-off", fontsize=12, fontweight="bold", ha="center")

fig.savefig("out.png", dpi=100, facecolor="white")
